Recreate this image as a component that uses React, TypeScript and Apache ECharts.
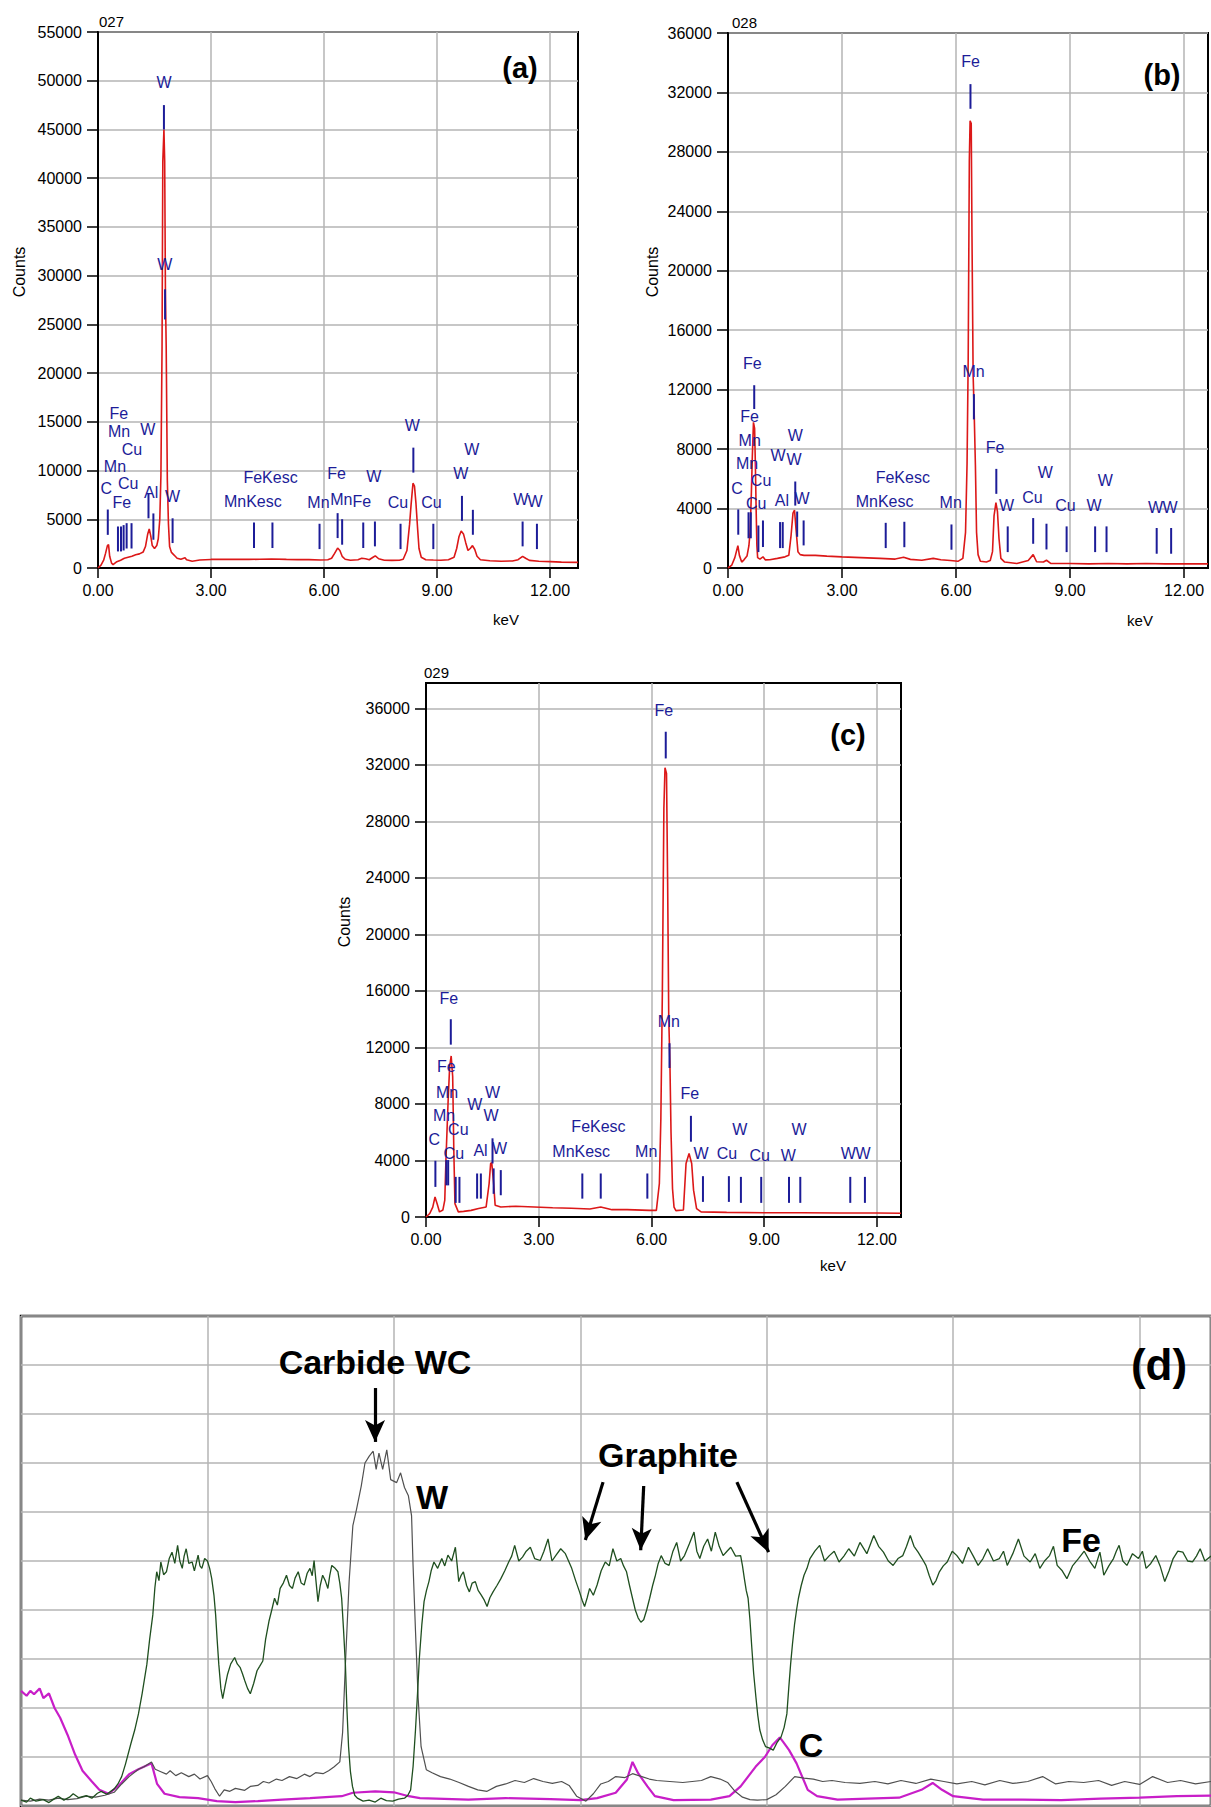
import React, { useEffect, useRef } from 'react';
import * as echarts from 'echarts';

const FONT = 'Liberation Sans, Arial, Helvetica, sans-serif';
const RED = '#dc1818';
const NAVY = '#1c1c98';
const GRIDC = '#b4b4b4';

// ---------- shared tick values ----------
const xTicks = [0, 3, 6, 9, 12];
const yTicksA = [0, 5000, 10000, 15000, 20000, 25000, 30000, 35000, 40000, 45000, 50000, 55000];
const yTicksBC = [0, 4000, 8000, 12000, 16000, 20000, 24000, 28000, 32000, 36000];

// ---------- panel (a) ----------
const spectrumA: [number, number][] = [
  [0, 0], [0.08, 300], [0.15, 800], [0.2, 1500], [0.25, 2300], [0.28, 2400], [0.31, 1200], [0.36, 500], [0.4, 350],
  [0.5, 650], [0.6, 800], [0.7, 1000], [0.8, 1100], [0.9, 1200], [1.0, 1350], [1.1, 1450], [1.2, 1650], [1.26, 2200],
  [1.32, 3500], [1.36, 4000], [1.4, 3300], [1.44, 2300], [1.5, 2000], [1.56, 2300], [1.6, 3000], [1.64, 5000],
  [1.67, 9500], [1.7, 22700], [1.72, 41700], [1.75, 45000], [1.77, 41700], [1.79, 28000], [1.81, 22700], [1.84, 9000],
  [1.87, 4500], [1.9, 2200], [1.95, 1600], [2.0, 1400], [2.05, 1200], [2.1, 1000], [2.2, 900], [2.31, 1050], [2.35, 850],
  [2.5, 700], [2.7, 820], [3.0, 880], [3.3, 900], [3.6, 880], [4.0, 880], [4.3, 900], [4.6, 920], [5.0, 880], [5.3, 860],
  [5.6, 860], [5.9, 820], [6.1, 850], [6.2, 1000], [6.28, 1500], [6.36, 2050], [6.42, 1800], [6.48, 1200], [6.56, 900],
  [6.7, 800], [6.9, 850], [7.0, 1000], [7.1, 950], [7.2, 850], [7.3, 1100], [7.36, 1250], [7.45, 950], [7.6, 800],
  [7.8, 780], [8.0, 800], [8.1, 900], [8.2, 1800], [8.27, 4500], [8.31, 6500], [8.36, 8700], [8.4, 8400], [8.44, 6600],
  [8.48, 4200], [8.52, 2000], [8.58, 1100], [8.7, 850], [8.9, 820], [9.1, 800], [9.3, 850], [9.45, 1100], [9.52, 2000],
  [9.58, 3200], [9.64, 3800], [9.7, 3500], [9.76, 2600], [9.82, 1800], [9.88, 2000], [9.94, 2300], [10.0, 1900],
  [10.06, 1200], [10.15, 850], [10.4, 750], [10.7, 700], [11.0, 720], [11.15, 850], [11.27, 1200], [11.35, 1000],
  [11.45, 780], [11.7, 700], [12.0, 650], [12.3, 600], [12.74, 580],
];
const markersA: [number, number, number][] = [
  [0.26, 3400, 6000], [0.53, 1700, 4260], [0.61, 1700, 4260], [0.68, 1800, 4400], [0.76, 2000, 4600], [0.89, 2000, 4600],
  [1.34, 5100, 7700], [1.47, 2900, 5600], [1.75, 45000, 47500], [1.78, 25500, 28600], [1.98, 2560, 5100],
  [4.14, 2050, 4670], [4.63, 2050, 4670], [5.88, 1940, 4540], [6.36, 3070, 5630], [6.48, 2390, 5010],
  [7.04, 2050, 4670], [7.35, 2220, 4770], [8.03, 1940, 4540], [8.37, 9790, 12350], [8.9, 1940, 4540],
  [9.66, 4840, 7400], [9.95, 3410, 5970], [11.27, 2220, 4770], [11.65, 1940, 4540],
];
const labelsA: [number, number, string][] = [
  [0.22, 8180, 'C'], [0.63, 6750, 'Fe'], [0.8, 8700, 'Cu'], [0.45, 10400, 'Mn'], [0.9, 12200, 'Cu'],
  [0.56, 14000, 'Mn'], [0.55, 15900, 'Fe'], [1.32, 14220, 'W'], [1.41, 7740, 'Al'], [1.98, 7330, 'W'],
  [1.75, 49770, 'W'], [1.77, 31130, 'W'], [4.11, 6820, 'MnKesc'], [4.58, 9310, 'FeKesc'], [5.85, 6750, 'Mn'],
  [6.33, 9650, 'Fe'], [6.46, 7060, 'Mn'], [7.0, 6820, 'Fe'], [7.32, 9380, 'W'], [7.96, 6720, 'Cu'],
  [8.34, 14600, 'W'], [8.85, 6720, 'Cu'], [9.63, 9720, 'W'], [9.92, 12110, 'W'], [11.22, 7000, 'W'], [11.6, 6820, 'W'],
];

// ---------- panel (b) ----------
const spectrumB: [number, number][] = [
  [0, 0], [0.1, 200], [0.18, 700], [0.22, 1100], [0.26, 1500], [0.3, 850], [0.36, 400], [0.42, 550], [0.5, 800],
  [0.55, 1500], [0.58, 2400], [0.61, 4600], [0.64, 7500], [0.67, 9800], [0.7, 9400], [0.72, 7000], [0.74, 4000],
  [0.76, 1500], [0.78, 700], [0.84, 600], [0.92, 750], [0.98, 550], [1.1, 560], [1.3, 650], [1.5, 750], [1.6, 850],
  [1.66, 2200], [1.71, 3700], [1.75, 3900], [1.79, 2600], [1.84, 1100], [1.9, 900], [2.0, 850], [2.3, 850], [2.6, 800],
  [3.0, 750], [3.5, 700], [4.0, 650], [4.4, 600], [4.62, 720], [4.8, 580], [5.1, 520], [5.4, 650], [5.6, 560],
  [5.85, 500], [6.05, 450], [6.18, 650], [6.25, 2400], [6.29, 7000], [6.32, 14000], [6.35, 27400], [6.37, 30100],
  [6.4, 29900], [6.42, 22300], [6.45, 13000], [6.48, 10200], [6.51, 6900], [6.54, 2400], [6.58, 900], [6.64, 450],
  [6.8, 400], [6.9, 500], [6.96, 1100], [7.0, 3500], [7.05, 4400], [7.09, 3800], [7.13, 2000], [7.18, 650], [7.28, 400],
  [7.6, 300], [7.9, 500], [8.03, 900], [8.12, 420], [8.3, 400], [8.38, 520], [8.5, 300], [9.0, 300], [9.5, 280],
  [10.0, 300], [10.5, 280], [11.0, 300], [11.5, 280], [12.0, 290], [12.63, 280],
];
const markersB: [number, number, number][] = [
  [0.27, 2240, 3940], [0.54, 2000, 3750], [0.6, 2000, 3750], [0.69, 10700, 12300], [0.8, 1070, 2860], [0.92, 1410, 3200],
  [1.37, 1340, 3090], [1.44, 1340, 3090], [1.77, 4200, 5820], [1.82, 2100, 3800], [1.99, 1520, 3200],
  [4.15, 1340, 3040], [4.64, 1400, 3110], [5.88, 1230, 2930], [6.47, 10000, 11700], [6.38, 30900, 32560],
  [7.06, 4990, 6670], [7.36, 1070, 2800], [8.03, 1630, 3360], [8.38, 1250, 2980], [8.91, 1070, 2800],
  [9.66, 1070, 2800], [9.96, 1070, 2800], [11.28, 960, 2690], [11.66, 960, 2690],
];
const labelsB: [number, number, string][] = [
  [0.24, 5330, 'C'], [0.64, 13790, 'Fe'], [0.57, 10200, 'Fe'], [0.57, 8570, 'Mn'], [0.5, 7000, 'Mn'],
  [0.87, 5890, 'Cu'], [0.74, 4320, 'Cu'], [1.32, 7560, 'W'], [1.77, 8900, 'W'], [1.74, 7300, 'W'],
  [1.42, 4540, 'Al'], [1.95, 4700, 'W'], [4.12, 4500, 'MnKesc'], [4.6, 6110, 'FeKesc'], [5.86, 4430, 'Mn'],
  [6.46, 13200, 'Mn'], [6.38, 34070, 'Fe'], [7.03, 8120, 'Fe'], [7.33, 4200, 'W'], [8.01, 4770, 'Cu'],
  [8.35, 6450, 'W'], [8.88, 4200, 'Cu'], [9.63, 4200, 'W'], [9.93, 5890, 'W'], [11.25, 4100, 'W'], [11.63, 4100, 'W'],
];

// ---------- panel (c) ----------
const spectrumC: [number, number][] = [
  [0, 0], [0.1, 250], [0.18, 700], [0.24, 1420], [0.3, 900], [0.36, 360], [0.45, 500], [0.5, 1200], [0.53, 4000],
  [0.59, 8300], [0.63, 10670], [0.67, 11400], [0.71, 9950], [0.74, 4740], [0.77, 950], [0.86, 360], [1.0, 400],
  [1.2, 470], [1.4, 600], [1.6, 710], [1.68, 2370], [1.72, 3790], [1.75, 3840], [1.8, 2370], [1.84, 830], [1.99, 710],
  [2.39, 760], [2.88, 710], [3.37, 660], [3.87, 620], [4.36, 570], [4.65, 710], [4.95, 520], [5.35, 520], [5.94, 470],
  [6.13, 470], [6.21, 2370], [6.25, 7000], [6.29, 16000], [6.33, 28900], [6.36, 31800], [6.4, 31400], [6.43, 23700],
  [6.46, 14000], [6.49, 11000], [6.52, 6000], [6.56, 2000], [6.6, 700], [6.65, 450], [6.85, 500], [6.92, 3790],
  [7.0, 4500], [7.07, 3790], [7.12, 1900], [7.2, 590], [7.32, 360], [8.0, 330], [9.0, 300], [10.0, 300], [11.0, 280],
  [12.0, 280], [12.64, 270],
];
const markersC: [number, number, number][] = [
  [0.25, 2130, 3980], [0.54, 2240, 4030], [0.59, 2240, 4030], [0.66, 12200, 14000], [0.79, 1000, 2840], [0.89, 1000, 2840],
  [1.36, 1300, 3080], [1.46, 1300, 3080], [1.77, 3790, 5570], [1.8, 1640, 3440], [1.99, 1540, 3320],
  [4.16, 1300, 3080], [4.65, 1300, 3080], [5.89, 1300, 3080], [6.48, 10550, 12300], [6.38, 32460, 34350],
  [7.05, 5330, 7160], [7.37, 1070, 2890], [8.06, 1070, 2890], [8.38, 1000, 2840], [8.92, 1000, 2840],
  [9.66, 1000, 2840], [9.96, 1000, 2840], [11.29, 1000, 2840], [11.68, 1000, 2840],
];
const labelsC: [number, number, string][] = [
  [0.22, 5500, 'C'], [0.61, 15450, 'Fe'], [0.54, 10620, 'Fe'], [0.56, 8820, 'Mn'], [0.48, 7160, 'Mn'],
  [0.86, 6160, 'Cu'], [0.74, 4500, 'Cu'], [1.3, 7940, 'W'], [1.77, 8820, 'W'], [1.73, 7160, 'W'],
  [1.45, 4740, 'Al'], [1.96, 4860, 'W'], [4.13, 4620, 'MnKesc'], [4.59, 6400, 'FeKesc'], [5.86, 4620, 'Mn'],
  [6.46, 13860, 'Mn'], [6.33, 35830, 'Fe'], [7.02, 8720, 'Fe'], [7.32, 4500, 'W'], [8.01, 4500, 'Cu'],
  [8.35, 6160, 'W'], [8.88, 4380, 'Cu'], [9.64, 4380, 'W'], [9.93, 6160, 'W'], [11.24, 4460, 'W'], [11.63, 4460, 'W'],
];

// ---------- panel (d): line-scan profiles (grid units) ----------
const feProfile: [number, number][] = [
  [0, 0.12], [0.03, 0.08], [0.05, 0.16], [0.08, 0.1], [0.12, 0.13], [0.15, 0.07], [0.18, 0.15], [0.2, 0.2], [0.23, 0.12],
  [0.26, 0.18], [0.28, 0.25], [0.31, 0.17], [0.35, 0.21], [0.38, 0.16], [0.41, 0.26], [0.43, 0.3], [0.46, 0.24], [0.5, 0.35],
  [0.52, 0.45], [0.54, 0.6], [0.56, 0.85], [0.59, 1.28], [0.61, 1.55], [0.63, 1.88], [0.65, 2.3], [0.675, 2.89], [0.69, 3.4],
  [0.707, 3.9], [0.718, 4.45], [0.728, 4.78], [0.74, 4.6], [0.75, 4.98], [0.765, 4.72], [0.78, 4.78], [0.795, 5.05],
  [0.81, 5.18], [0.825, 4.95], [0.84, 5.32], [0.852, 5.0], [0.865, 4.85], [0.875, 5.1], [0.886, 5.25], [0.9, 4.95],
  [0.918, 4.98], [0.93, 4.8], [0.95, 5.12], [0.96, 4.9], [0.97, 4.85], [0.985, 5.05], [1.0, 5.0], [1.012, 4.85],
  [1.023, 4.64], [1.035, 4.3], [1.044, 3.9], [1.052, 3.4], [1.061, 2.89], [1.072, 2.4], [1.082, 2.19], [1.095, 2.45],
  [1.108, 2.69], [1.125, 2.9], [1.146, 3.03], [1.16, 2.9], [1.175, 2.83], [1.188, 2.7], [1.2, 2.56], [1.215, 2.4],
  [1.23, 2.29], [1.248, 2.5], [1.266, 2.76], [1.28, 2.85], [1.297, 2.96], [1.312, 3.4], [1.33, 3.77], [1.345, 4.0],
  [1.36, 4.24], [1.375, 4.1], [1.39, 4.44], [1.407, 4.55], [1.424, 4.71], [1.44, 4.5], [1.456, 4.44], [1.47, 4.65],
  [1.487, 4.78], [1.503, 4.55], [1.519, 4.51], [1.535, 4.75], [1.55, 4.85], [1.562, 4.7], [1.572, 5.01], [1.582, 4.6],
  [1.593, 4.17], [1.605, 4.5], [1.618, 4.71], [1.632, 4.6], [1.646, 4.44], [1.656, 4.7], [1.667, 4.91], [1.685, 4.85],
  [1.7, 4.78], [1.71, 4.55], [1.72, 4.24], [1.73, 3.6], [1.74, 2.89], [1.748, 2.0], [1.757, 1.21], [1.767, 0.7],
  [1.778, 0.4], [1.79, 0.22], [1.804, 0.16], [1.835, 0.1], [1.867, 0.12], [1.9, 0.08], [1.93, 0.16], [1.96, 0.11],
  [1.994, 0.1], [2.025, 0.14], [2.057, 0.16], [2.075, 0.22], [2.09, 0.33], [2.103, 0.8], [2.116, 1.55], [2.127, 2.3],
  [2.137, 3.03], [2.15, 3.7], [2.162, 4.17], [2.175, 4.4], [2.188, 4.58], [2.2, 4.8], [2.215, 4.98], [2.235, 4.85],
  [2.257, 5.05], [2.273, 4.9], [2.29, 5.12], [2.31, 5.0], [2.33, 5.28], [2.34, 4.9], [2.348, 4.58], [2.36, 4.7],
  [2.373, 4.78], [2.39, 4.5], [2.405, 4.37], [2.42, 4.55], [2.437, 4.58], [2.452, 4.4], [2.468, 4.31], [2.485, 4.2],
  [2.5, 4.07], [2.515, 4.25], [2.532, 4.37], [2.553, 4.5], [2.574, 4.64], [2.595, 4.8], [2.616, 4.98], [2.632, 5.1],
  [2.648, 5.32], [2.67, 5.0], [2.69, 5.08], [2.71, 5.2], [2.732, 5.28], [2.755, 5.05], [2.785, 5.01], [2.805, 5.2],
  [2.827, 5.45], [2.848, 5.0], [2.87, 5.12], [2.895, 5.25], [2.92, 5.15], [2.937, 5.0], [2.954, 4.85], [2.975, 4.6],
  [2.996, 4.37], [3.01, 4.2], [3.023, 4.07], [3.037, 4.25], [3.05, 4.44], [3.07, 4.3], [3.09, 4.51], [3.112, 4.8],
  [3.134, 4.98], [3.155, 4.9], [3.175, 5.25], [3.196, 5.0], [3.217, 5.05], [3.232, 4.9], [3.248, 4.78], [3.264, 4.5],
  [3.28, 4.24], [3.295, 4.0], [3.31, 3.84], [3.325, 3.75], [3.34, 3.8], [3.356, 4.0], [3.372, 4.24], [3.388, 4.5],
  [3.403, 4.71], [3.418, 4.95], [3.434, 5.11], [3.455, 4.95], [3.476, 4.91], [3.497, 5.2], [3.517, 5.38], [3.538, 5.0],
  [3.559, 5.11], [3.585, 5.35], [3.61, 5.59], [3.625, 5.2], [3.641, 5.05], [3.662, 5.3], [3.683, 5.45], [3.703, 5.2],
  [3.724, 5.59], [3.745, 5.3], [3.766, 5.11], [3.787, 5.2], [3.807, 5.28], [3.833, 5.1], [3.86, 5.11], [3.87, 4.9],
  [3.88, 4.64], [3.89, 4.4], [3.9, 4.24], [3.91, 3.8], [3.92, 3.23], [3.93, 2.7], [3.942, 2.22], [3.952, 1.85],
  [3.963, 1.55], [3.978, 1.35], [3.994, 1.21], [4.015, 1.18], [4.035, 1.14], [4.056, 1.3], [4.077, 1.41], [4.093, 1.6],
  [4.108, 1.88], [4.118, 2.4], [4.128, 2.89], [4.138, 3.3], [4.149, 3.7], [4.16, 4.0], [4.17, 4.24], [4.185, 4.5],
  [4.2, 4.71], [4.216, 4.85], [4.232, 5.05], [4.258, 5.2], [4.284, 5.32], [4.31, 5.0], [4.336, 5.11], [4.362, 5.2],
  [4.388, 4.98], [4.414, 5.1], [4.44, 5.25], [4.47, 5.1], [4.5, 5.38], [4.537, 5.15], [4.574, 5.52], [4.6, 5.3],
  [4.626, 5.18], [4.652, 5.0], [4.678, 4.91], [4.704, 5.05], [4.73, 5.11], [4.75, 5.3], [4.77, 5.52], [4.79, 5.3],
  [4.812, 5.18], [4.833, 5.05], [4.854, 4.91], [4.872, 4.7], [4.891, 4.51], [4.908, 4.6], [4.926, 4.78], [4.947, 4.9],
  [4.968, 4.98], [4.995, 5.2], [5.02, 5.11], [5.05, 4.95], [5.082, 5.28], [5.108, 5.1], [5.134, 4.91], [5.16, 5.05],
  [5.185, 5.25], [5.216, 5.0], [5.248, 5.05], [5.27, 5.2], [5.29, 4.91], [5.32, 5.15], [5.35, 5.45], [5.38, 5.1],
  [5.413, 4.98], [5.44, 5.15], [5.465, 4.85], [5.49, 5.0], [5.517, 5.11], [5.538, 5.3], [5.558, 4.91], [5.585, 4.8],
  [5.61, 4.64], [5.64, 4.9], [5.672, 5.05], [5.703, 5.2], [5.735, 4.98], [5.76, 4.85], [5.787, 5.18], [5.798, 4.95],
  [5.808, 4.71], [5.835, 4.9], [5.86, 5.05], [5.875, 5.2], [5.89, 5.32], [5.91, 5.0], [5.932, 4.91], [5.962, 5.15],
  [5.994, 5.05], [6.015, 5.2], [6.035, 4.85], [6.06, 4.95], [6.087, 5.11], [6.11, 4.9], [6.135, 4.58], [6.158, 4.8],
  [6.18, 5.05], [6.205, 5.2], [6.232, 5.18], [6.258, 5.0], [6.284, 4.98], [6.305, 5.1], [6.325, 5.25], [6.35, 5.0],
  [6.383, 5.1],
];
const wProfile: [number, number][] = [
  [0, 0.12], [0.05, 0.1], [0.1, 0.14], [0.15, 0.12], [0.2, 0.16], [0.25, 0.13], [0.3, 0.15], [0.35, 0.2], [0.4, 0.18],
  [0.45, 0.22], [0.5, 0.28], [0.54, 0.45], [0.58, 0.6], [0.63, 0.75], [0.66, 0.8], [0.7, 0.9], [0.72, 0.75], [0.75, 0.7],
  [0.78, 0.65], [0.8, 0.72], [0.83, 0.62], [0.86, 0.68], [0.9, 0.6], [0.93, 0.65], [0.96, 0.55], [1.0, 0.62], [1.02, 0.5],
  [1.04, 0.35], [1.065, 0.2], [1.09, 0.33], [1.12, 0.3], [1.15, 0.36], [1.2, 0.32], [1.23, 0.4], [1.27, 0.42], [1.3, 0.5],
  [1.33, 0.47], [1.37, 0.55], [1.4, 0.52], [1.44, 0.6], [1.48, 0.56], [1.52, 0.65], [1.55, 0.6], [1.58, 0.68], [1.62, 0.66],
  [1.65, 0.72], [1.68, 0.8], [1.71, 0.9], [1.725, 1.5], [1.74, 2.89], [1.76, 4.58], [1.78, 5.72], [1.8, 6.06], [1.825, 6.53],
  [1.845, 7.0], [1.868, 7.14], [1.889, 7.24], [1.905, 6.87], [1.92, 7.2], [1.94, 6.87], [1.962, 7.27], [1.983, 6.66],
  [2.015, 6.6], [2.036, 6.8], [2.057, 6.5], [2.078, 6.33], [2.095, 5.92], [2.103, 4.91], [2.116, 3.57], [2.13, 2.22],
  [2.146, 1.21], [2.174, 0.74], [2.205, 0.68], [2.25, 0.6], [2.3, 0.55], [2.35, 0.48], [2.4, 0.4], [2.45, 0.33], [2.5, 0.3],
  [2.55, 0.4], [2.6, 0.45], [2.65, 0.52], [2.7, 0.48], [2.75, 0.56], [2.8, 0.5], [2.85, 0.46], [2.9, 0.5], [2.94, 0.42],
  [2.98, 0.2], [3.03, 0.1], [3.07, 0.25], [3.11, 0.45], [3.15, 0.5], [3.19, 0.6], [3.24, 0.58], [3.28, 0.66], [3.33, 0.6],
  [3.37, 0.55], [3.41, 0.52], [3.48, 0.5], [3.55, 0.48], [3.6, 0.5], [3.65, 0.52], [3.7, 0.6], [3.75, 0.55], [3.79, 0.48],
  [3.83, 0.3], [3.87, 0.18], [3.91, 0.13], [3.95, 0.12], [4.0, 0.13], [4.05, 0.23], [4.1, 0.4], [4.15, 0.6], [4.2, 0.57],
  [4.25, 0.55], [4.3, 0.5], [4.35, 0.52], [4.42, 0.48], [4.5, 0.46], [4.58, 0.5], [4.65, 0.45], [4.72, 0.52], [4.8, 0.46],
  [4.88, 0.55], [4.95, 0.5], [5.02, 0.45], [5.1, 0.5], [5.17, 0.43], [5.25, 0.52], [5.32, 0.46], [5.4, 0.5], [5.48, 0.6],
  [5.55, 0.45], [5.62, 0.5], [5.7, 0.48], [5.78, 0.52], [5.85, 0.42], [5.92, 0.5], [6.0, 0.44], [6.07, 0.6], [6.15, 0.48],
  [6.22, 0.52], [6.3, 0.45], [6.383, 0.5],
];
const cProfile: [number, number][] = [
  [0, 2.35], [0.03, 2.25], [0.05, 2.35], [0.07, 2.28], [0.1, 2.4], [0.12, 2.2], [0.15, 2.3], [0.18, 2.0], [0.21, 1.8],
  [0.25, 1.45], [0.29, 1.05], [0.33, 0.72], [0.38, 0.5], [0.42, 0.33], [0.47, 0.25], [0.52, 0.4], [0.58, 0.65], [0.63, 0.75],
  [0.7, 0.87], [0.73, 0.45], [0.77, 0.25], [0.85, 0.18], [0.95, 0.16], [1.05, 0.1], [1.15, 0.08], [1.27, 0.1], [1.4, 0.13],
  [1.55, 0.16], [1.72, 0.2], [1.78, 0.27], [1.9, 0.3], [2.0, 0.28], [2.08, 0.2], [2.14, 0.16], [2.4, 0.13], [2.6, 0.16],
  [2.84, 0.14], [3.0, 0.12], [3.09, 0.16], [3.19, 0.27], [3.25, 0.54], [3.28, 0.9], [3.31, 0.67], [3.36, 0.4], [3.4, 0.2],
  [3.5, 0.12], [3.7, 0.13], [3.8, 0.2], [3.86, 0.4], [3.9, 0.6], [3.94, 0.8], [3.99, 1.0], [4.03, 1.24], [4.07, 1.4],
  [4.09, 1.3], [4.12, 1.14], [4.16, 0.87], [4.19, 0.6], [4.22, 0.33], [4.27, 0.2], [4.38, 0.13], [4.54, 0.15], [4.71, 0.17],
  [4.83, 0.33], [4.89, 0.47], [4.94, 0.33], [5.0, 0.2], [5.16, 0.13], [5.37, 0.13], [5.58, 0.12], [5.79, 0.15], [6.0, 0.17],
  [6.2, 0.2], [6.383, 0.21],
];
// arrows in panel (d), [fromX, fromY, toX, toY] in grid units
const arrowsD: [number, number, number, number][] = [
  [1.899, 8.53, 1.899, 7.43],
  [3.122, 6.61, 3.027, 5.43],
  [3.34, 6.53, 3.324, 5.22],
  [3.84, 6.61, 4.01, 5.18],
];

// ---------- layout ----------
const W = 1211;
const H = 1807;

function spectrumAxes(gi: number, xMax: number, yMax: number, yInterval: number, yTicks: number[]) {
  const xAxis = {
    type: 'value', gridIndex: gi, min: 0, max: xMax, interval: 3,
    axisLine: { show: true, onZero: false, lineStyle: { color: '#000', width: 2 } },
    axisTick: { show: true, length: 10, customValues: xTicks, lineStyle: { color: '#000', width: 1.5 } },
    axisLabel: {
      show: true, customValues: xTicks, margin: 14, color: '#000', fontSize: 16, fontFamily: FONT,
      formatter: (v: number) => v.toFixed(2),
    },
    splitLine: { show: true, lineStyle: { color: GRIDC, width: 1.5 } },
  };
  const yAxis = {
    type: 'value', gridIndex: gi, min: 0, max: yMax, interval: yInterval,
    axisLine: { show: true, onZero: false, lineStyle: { color: '#000', width: 2 } },
    axisTick: { show: true, length: 11, customValues: yTicks, lineStyle: { color: '#000', width: 1.5 } },
    axisLabel: {
      show: true, customValues: yTicks, margin: 16, color: '#000', fontSize: 16, fontFamily: FONT,
      formatter: (v: number) => String(Math.round(v)),
    },
    splitLine: { show: true, lineStyle: { color: GRIDC, width: 1.5 } },
  };
  return { xAxis, yAxis };
}

function spectrumSeries(gi: number, spec: [number, number][], markers: [number, number, number][], labels: [number, number, string][]) {
  return [
    {
      type: 'line', xAxisIndex: gi, yAxisIndex: gi, data: spec, showSymbol: false, symbol: 'none',
      lineStyle: { color: RED, width: 1.6 }, z: 3,
    },
    {
      type: 'custom', xAxisIndex: gi, yAxisIndex: gi, data: markers, z: 4,
      encode: { x: 0, y: [1, 2] },
      renderItem: (_p: any, api: any) => {
        const x = api.value(0);
        const a = api.coord([x, api.value(1)]);
        const b = api.coord([x, api.value(2)]);
        return { type: 'line', shape: { x1: a[0], y1: a[1], x2: b[0], y2: b[1] }, style: { stroke: NAVY, lineWidth: 2 } };
      },
    },
    {
      type: 'custom', xAxisIndex: gi, yAxisIndex: gi, data: labels.map((l) => [l[0], l[1]]), z: 5,
      encode: { x: 0, y: 1 },
      renderItem: (p: any, api: any) => {
        const item = labels[p.dataIndex];
        const c = api.coord([api.value(0), api.value(1)]);
        return {
          type: 'text', x: c[0], y: c[1],
          style: { text: item[2], fill: NAVY, font: `16px ${FONT}`, align: 'center', verticalAlign: 'middle' },
        };
      },
    },
  ];
}

function txt(x: number, y: number, text: string, font: string, align = 'center', extra: any = {}) {
  return {
    type: 'text', x, y, z: 100,
    style: { text, font, fill: '#000', align, verticalAlign: 'middle' },
    ...extra,
  };
}

export default function App() {
  const ref = useRef<HTMLDivElement>(null);

  useEffect(() => {
    if (!ref.current) return;
    const chart = echarts.init(ref.current, undefined, { renderer: 'svg', width: W, height: H });

    const a = spectrumAxes(0, 12.74, 55000, 5000, yTicksA);
    const b = spectrumAxes(1, 12.63, 36000, 4000, yTicksBC);
    const c = spectrumAxes(2, 12.64, 37800, 4000, yTicksBC);

    const dX = {
      type: 'value', gridIndex: 3, min: 0, max: 6.383, interval: 1,
      axisLine: { show: false }, axisTick: { show: false }, axisLabel: { show: false },
      splitLine: { show: true, lineStyle: { color: GRIDC, width: 1.5 } },
    };
    const dY = {
      type: 'value', gridIndex: 3, min: 0, max: 10, interval: 1,
      axisLine: { show: false }, axisTick: { show: false }, axisLabel: { show: false },
      splitLine: { show: true, lineStyle: { color: GRIDC, width: 1.5 } },
    };

    const option: any = {
      animation: false,
      backgroundColor: '#fff',
      grid: [
        { left: 98, top: 32, width: 480, height: 536, show: true, borderColor: '#000', borderWidth: 2, backgroundColor: 'transparent' },
        { left: 728, top: 33, width: 480, height: 535, show: true, borderColor: '#000', borderWidth: 2, backgroundColor: 'transparent' },
        { left: 426, top: 683, width: 475, height: 534, show: true, borderColor: '#000', borderWidth: 2, backgroundColor: 'transparent' },
        { left: 21, top: 1316, width: 1200, height: 490, show: true, borderColor: '#000', borderWidth: 2.5, backgroundColor: 'transparent' },
      ],
      xAxis: [a.xAxis, b.xAxis, c.xAxis, dX],
      yAxis: [a.yAxis, b.yAxis, c.yAxis, dY],
      series: [
        ...spectrumSeries(0, spectrumA, markersA, labelsA),
        ...spectrumSeries(1, spectrumB, markersB, labelsB),
        ...spectrumSeries(2, spectrumC, markersC, labelsC),
        {
          type: 'line', xAxisIndex: 3, yAxisIndex: 3, data: cProfile, showSymbol: false, symbol: 'none',
          lineStyle: { color: '#c81ec8', width: 2.2 }, z: 3,
        },
        {
          type: 'line', xAxisIndex: 3, yAxisIndex: 3, data: wProfile, showSymbol: false, symbol: 'none',
          lineStyle: { color: '#505050', width: 1.2 }, z: 4,
        },
        {
          type: 'line', xAxisIndex: 3, yAxisIndex: 3, data: feProfile, showSymbol: false, symbol: 'none',
          lineStyle: { color: '#1f4f1f', width: 1.3 }, z: 5,
          markLine: {
            silent: true, symbol: ['none', 'arrow'], symbolSize: [15, 22], animation: false,
            label: { show: false },
            lineStyle: { color: '#000', width: 3.2, type: 'solid' },
            itemStyle: { color: '#000' },
            emphasis: { disabled: true },
            data: arrowsD.map((ar) => [{ coord: [ar[0], ar[1]] }, { coord: [ar[2], ar[3]] }]),
          },
        },
      ],
      graphic: [
        txt(99, 21, '027', `15px ${FONT}`, 'left'),
        txt(732, 22, '028', `15px ${FONT}`, 'left'),
        txt(424, 672, '029', `15px ${FONT}`, 'left'),
        txt(19, 272, 'Counts', `16px ${FONT}`, 'center', { rotation: Math.PI / 2 }),
        txt(652, 272, 'Counts', `16px ${FONT}`, 'center', { rotation: Math.PI / 2 }),
        txt(344, 922, 'Counts', `16px ${FONT}`, 'center', { rotation: Math.PI / 2 }),
        txt(506, 619, 'keV', `15px ${FONT}`),
        txt(1140, 620, 'keV', `15px ${FONT}`),
        txt(833, 1265, 'keV', `15px ${FONT}`),
        txt(520, 68, '(a)', `bold 29px ${FONT}`),
        txt(1162, 75, '(b)', `bold 29px ${FONT}`),
        txt(848, 735, '(c)', `bold 29px ${FONT}`),
        txt(1159, 1364, '(d)', `bold 44px ${FONT}`),
        txt(375, 1362, 'Carbide WC', `bold 34px ${FONT}`),
        txt(668, 1455, 'Graphite', `bold 34px ${FONT}`),
        txt(432, 1497, 'W', `bold 34px ${FONT}`),
        txt(1081, 1540, 'Fe', `bold 34px ${FONT}`),
        txt(811, 1745, 'C', `bold 34px ${FONT}`),
      ],
    };

    chart.setOption(option);
    return () => chart.dispose();
  }, []);

  return (
    <div
      ref={ref}
      style={{ position: 'absolute', left: 0, top: 0, width: W, height: H, background: '#fff', overflow: 'hidden' }}
    />
  );
}
